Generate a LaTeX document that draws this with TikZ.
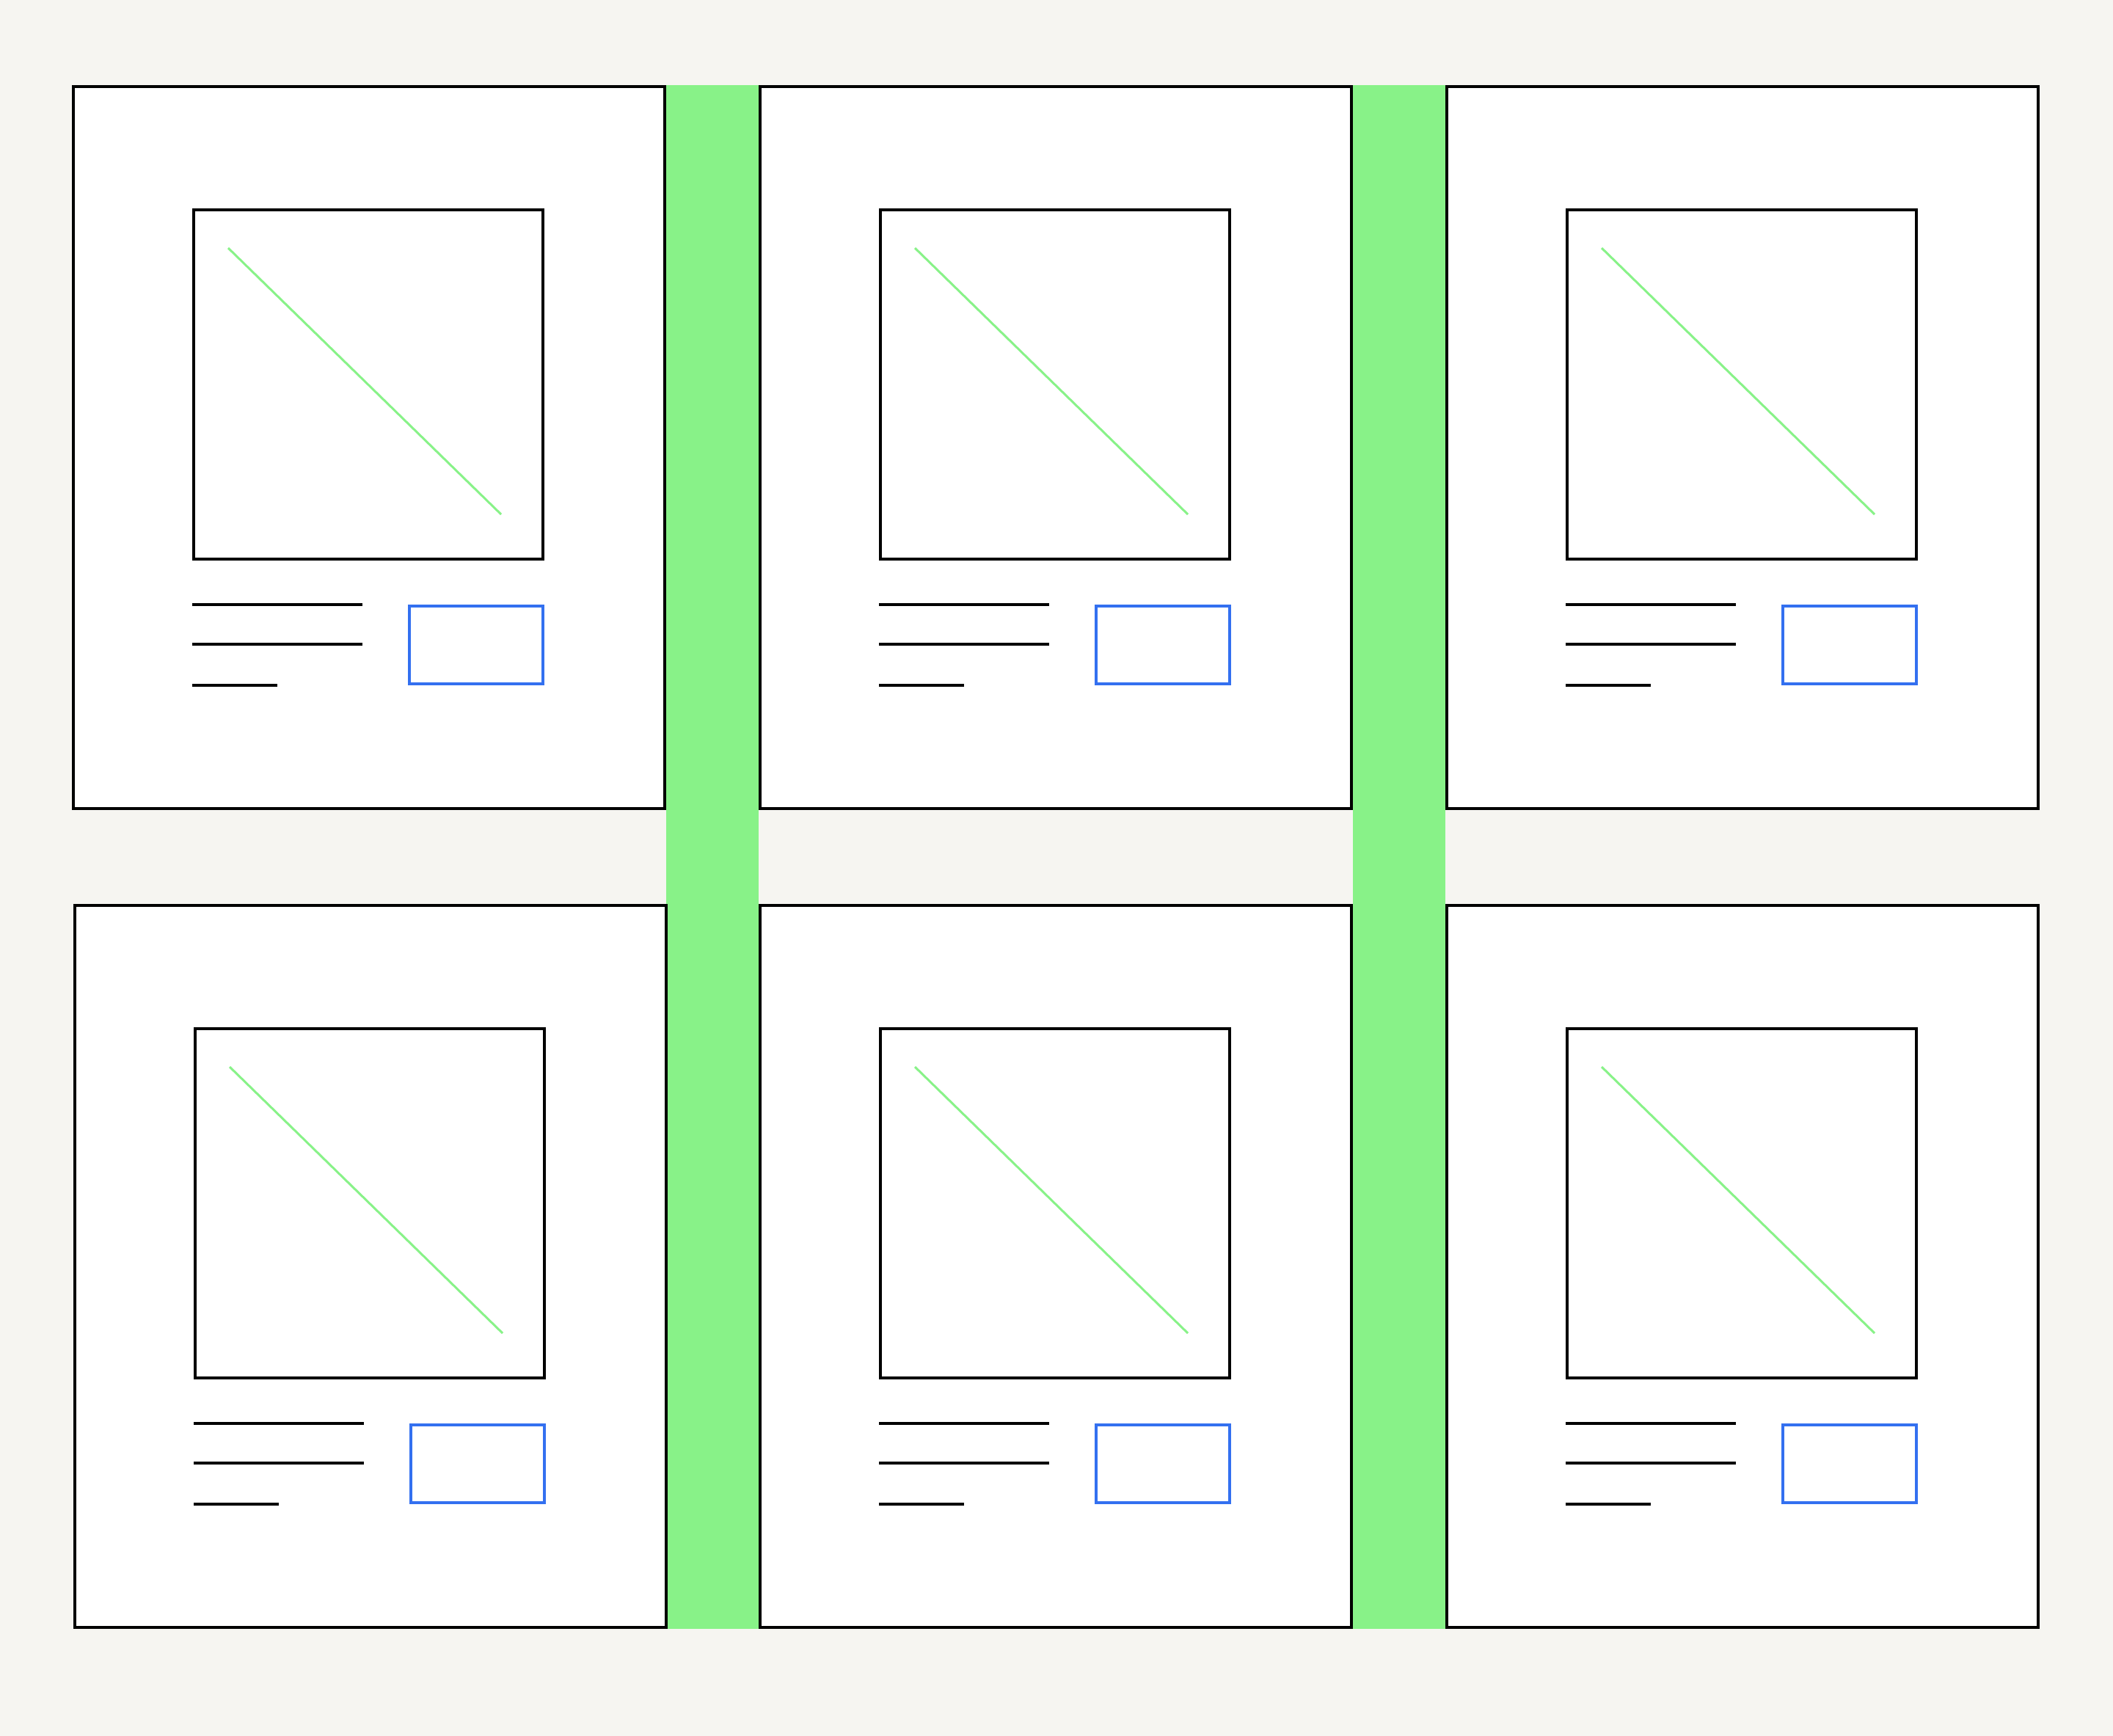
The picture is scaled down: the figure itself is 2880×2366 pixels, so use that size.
\documentclass[tikz,border=0pt]{standalone}
\definecolor{paper}{HTML}{F6F5F1}
\definecolor{gutter}{HTML}{88F288}
\definecolor{btnblue}{HTML}{3370F0}
\begin{document}
\begin{tikzpicture}[x=1pt,y=-1pt,
  card/.style={draw=black,fill=white,line width=4pt,inner sep=0pt,outer sep=0pt,
    minimum width=806pt,minimum height=984pt,anchor=north west},
  imgbox/.style={draw=black,fill=white,line width=4pt,inner sep=0pt,outer sep=0pt,
    minimum width=476pt,minimum height=476pt,anchor=north west},
  diag/.style={draw=gutter,line width=3pt},
  textline/.style={draw=black,line width=4pt},
  button/.style={draw=btnblue,fill=white,line width=4pt,inner sep=0pt,outer sep=0pt,
    minimum width=182pt,minimum height=106pt,anchor=north west},
  gap/.style={fill=gutter,inner sep=0pt,outer sep=0pt,
    minimum width=126pt,minimum height=2104pt,anchor=north west}]
  % page
  \fill[paper] (0,0) rectangle (2880,2366);
  \useasboundingbox (0,0) rectangle (2880,2366);
  % green gutters behind the cards
  \node[gap] (gap1) at (908,116) {};
  \node[gap] (gap2) at (1844,116) {};
  % six product cards
  \foreach \cx/\cy/\i in {100/118/a,1036/118/b,1972/118/c,102/1234/d,1036/1234/e,1972/1234/f}{
    \node[card] (card\i) at (\cx,\cy) {};
    % image placeholder with its diagonal
    \node[imgbox] (img\i) at ([shift={(164,168)}]card\i.north west) {};
    \coordinate (d1\i) at ([shift={(47,52)}]img\i.north west);
    \coordinate (d2\i) at ([shift={(419,415)}]img\i.north west);
    \draw[diag] (d1\i) -- (d2\i);
    % text lines
    \coordinate (t1\i) at ([shift={(162,706)}]card\i.north west);
    \coordinate (t2\i) at ([shift={(162,760)}]card\i.north west);
    \coordinate (t3\i) at ([shift={(162,816)}]card\i.north west);
    \draw[textline] (t1\i) -- ++(232,0);
    \draw[textline] (t2\i) -- ++(232,0);
    \draw[textline] (t3\i) -- ++(116,0);
    % button
    \node[button] (btn\i) at ([shift={(458,708)}]card\i.north west) {};
  }
\end{tikzpicture}
\end{document}
